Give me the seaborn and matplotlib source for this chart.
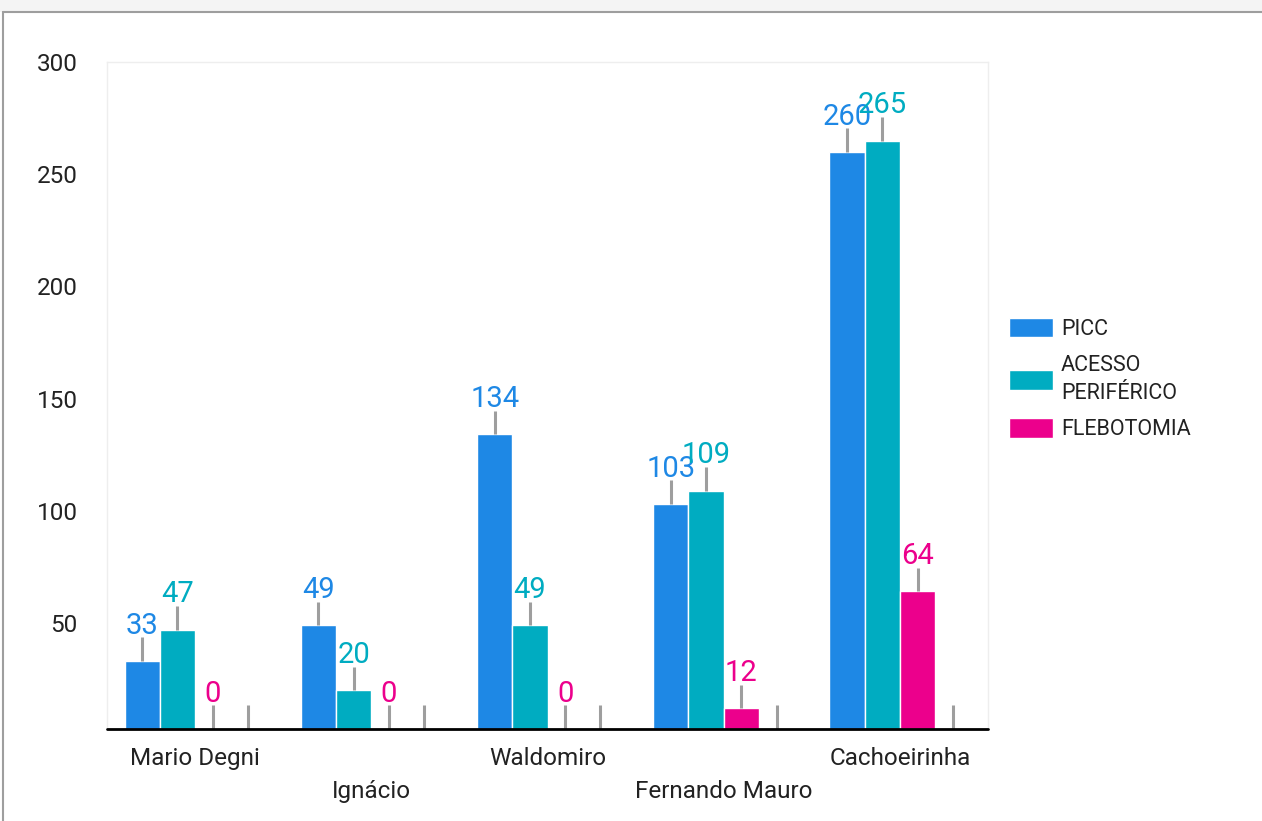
import pandas as pd
import matplotlib.pyplot as plt
import seaborn as sns
from matplotlib.patches import Rectangle
from matplotlib.lines import Line2D

hospitals = ['Mario Degni', 'Ignácio', 'Waldomiro', 'Fernando Mauro', 'Cachoeirinha']
picc = [33, 49, 134, 103, 260]
acesso = [47, 20, 49, 109, 265]
flebotomia = [0, 0, 0, 12, 64]
extra = [0, 0, 0, 0, 0]  # empty fourth series (only its stem shows)

series_names = ['PICC', 'ACESSO PERIFÉRICO', 'FLEBOTOMIA', 'EXTRA']
legend_labels = ['PICC', 'ACESSO\nPERIFÉRICO', 'FLEBOTOMIA']
colors = ['#1e88e5', '#00acc1', '#ec008c', '#ffffff']

rows = []
for name, vals in zip(series_names, [picc, acesso, flebotomia, extra]):
    for h, v in zip(hospitals, vals):
        rows.append({'hospital': h, 'serie': name, 'valor': v})
df = pd.DataFrame(rows)

sns.set_style('white')
plt.rcParams['font.family'] = ['Roboto', 'DejaVu Sans']

fig = plt.figure(figsize=(12.62, 8.21), dpi=100)
ax = fig.add_axes([107 / 1262, 1 - 729 / 821, 881 / 1262, 667 / 821])

sns.barplot(data=df, x='hospital', y='valor', hue='serie', order=hospitals,
            hue_order=series_names, palette=colors, saturation=1, width=0.8,
            edgecolor='white', linewidth=1, legend=False, ax=ax)

ymin = 2.7
ax.set_ylim(ymin, 300)
ax.set_xlim(-0.5, 4.5)

stem = 10.5
for i, cont in enumerate(ax.containers):
    for bar in cont:
        x = bar.get_x() + bar.get_width() / 2
        v = bar.get_height()
        base = max(v, ymin)
        ax.plot([x, x], [base, base + stem], color='#9e9e9e', lw=2.2,
                solid_capstyle='butt', zorder=3, clip_on=False)
        if i < 3:
            ax.text(x, base + stem + 1.6, f'{int(v)}', color=colors[i],
                    fontsize=21, ha='center', va='baseline', zorder=4)

# frame and baseline
for side in ['top', 'right', 'left', 'bottom']:
    ax.spines[side].set_visible(True)
    ax.spines[side].set_color('#eeeeee')
    ax.spines[side].set_linewidth(1)
ax.axhline(ymin, color='black', lw=2, zorder=5, clip_on=False)

ax.set_yticks([50, 100, 150, 200, 250, 300])
ax.set_xticks(range(len(hospitals)))
ax.set_xticklabels([h if k % 2 == 0 else '\n' + h for k, h in enumerate(hospitals)])
ax.tick_params(axis='both', length=0, labelsize=17.5, labelcolor='#222222')
ax.tick_params(axis='x', pad=13)
ax.tick_params(axis='y', pad=21)
for k, lbl in enumerate(ax.get_xticklabels()):
    if k % 2:
        lbl.set_linespacing(1.55)
ax.set_xlabel('')
ax.set_ylabel('')

leg = ax.legend(handles=list(ax.containers[:3]), labels=legend_labels,
                loc='upper left', bbox_to_anchor=(1009 / 1262, 1 - 318 / 821),
                bbox_transform=fig.transFigure, frameon=False, fontsize=15.5,
                handlelength=2.05, handleheight=1.0, handletextpad=0.36,
                labelspacing=0.68, borderaxespad=0, borderpad=0)
for t in leg.get_texts():
    t.set_color('#222222')
    t.set_linespacing(1.45)

# outer container frame
fig.patches.append(Rectangle((0, 1 - 12 / 821), 1, 12 / 821, transform=fig.transFigure,
                             facecolor='#f4f4f4', edgecolor='none', zorder=0))
fig.lines.append(Line2D([3 / 1262, 1], [1 - 12 / 821, 1 - 12 / 821],
                        transform=fig.transFigure, color='#9e9e9e', lw=1.5))
fig.lines.append(Line2D([3 / 1262, 3 / 1262], [0, 1 - 12 / 821],
                        transform=fig.transFigure, color='#9e9e9e', lw=1.5))

fig.savefig('out.png', dpi=100)
